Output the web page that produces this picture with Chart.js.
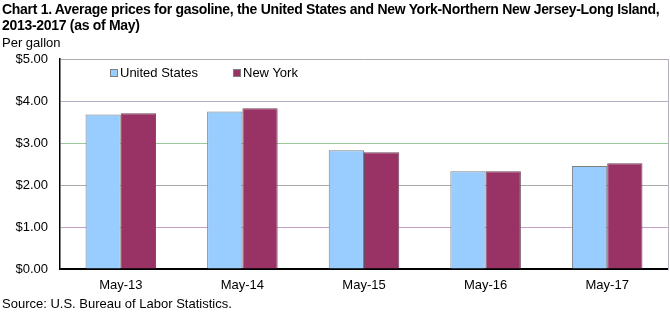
<!DOCTYPE html>
<html lang="en">
<head>
  <meta charset="UTF-8" />
  <title>Average prices for gasoline</title>
  <script src="https://cdn.jsdelivr.net/npm/chart.js"></script>
  <style>
    * { box-sizing: border-box; margin: 0; padding: 0; }
    body {
      width: 670px;
      height: 314px;
      background: #fff;
      font-family: 'Liberation Sans', Arial, sans-serif;
      color: #000;
      position: relative;
      overflow: hidden;
    }
    .title {
      position: absolute;
      left: 2px;
      top: 1px;
      font-size: 14px;
      letter-spacing: -0.3px;
      font-weight: bold;
      line-height: 16px;
      white-space: nowrap;
    }
    .unit {
      position: absolute;
      left: 2px;
      top: 35px;
      font-size: 13px;
    }
    .source {
      position: absolute;
      left: 2px;
      top: 296px;
      font-size: 13px;
    }
    .chart-box {
      position: absolute;
      left: 0;
      top: 0;
      width: 670px;
      height: 314px;
    }
    .legend {
      position: absolute;
      top: 65px;
      font-size: 13px;
      display: flex;
      align-items: center;
    }
    .legend span.box {
      display: inline-block;
      width: 8px;
      height: 8px;
      margin-right: 2px;
      border: 1px solid #808080;
    }
  </style>
</head>
<body>
  <div class="chart-box"><canvas id="chart"></canvas></div>
  <div class="title">Chart 1. Average prices for gasoline, the United States and New York-Northern New Jersey-Long Island,<br>2013-2017 (as of May)</div>
  <div class="unit">Per gallon</div>
  <div class="legend" style="left:110px;"><span class="box" style="background:#99ccff;"></span>United States</div>
  <div class="legend" style="left:233px;"><span class="box" style="background:#993366;"></span>New York</div>
  <div class="source">Source: U.S. Bureau of Labor Statistics.</div>

  <script>
// Chart data
const categories = ['May-13', 'May-14', 'May-15', 'May-16', 'May-17'];
const unitedStates = [3.68, 3.75, 2.83, 2.33, 2.45];
const newYork = [3.71, 3.83, 2.78, 2.33, 2.52];
const yTicks = [0, 1, 2, 3, 4, 5];

// gridline colours from $0 up to $5
const gridColors = ['#000000', '#c8a0c8', '#a8aca8', '#99c899', '#b4aec4', '#b0aab0'];

const ctx = document.getElementById('chart').getContext('2d');
new Chart(ctx, {
  type: 'bar',
  data: {
    labels: categories,
    datasets: [
      {
        label: 'United States',
        data: unitedStates,
        backgroundColor: '#99ccff',
        borderColor: '#808080',
        borderWidth: 1
      },
      {
        label: 'New York',
        data: newYork,
        backgroundColor: '#993366',
        borderColor: '#6e4a5a',
        borderWidth: 1
      }
    ]
  },
  options: {
    responsive: true,
    maintainAspectRatio: false,
    animation: false,
    layout: { padding: { top: 59, right: 0, left: 0, bottom: 0 } },
    plugins: {
      legend: { display: false },
      title: { display: false },
      tooltip: { enabled: false }
    },
    datasets: {
      bar: { barPercentage: 1, categoryPercentage: 0.58 }
    },
    scales: {
      x: {
        grid: { display: false, drawTicks: false },
        border: { color: '#000', width: 1.5 },
        ticks: {
          color: '#000',
          padding: 9,
          font: { family: "'Liberation Sans', Arial", size: 13 }
        },
        afterFit: (scale) => { scale.height = 45; }
      },
      y: {
        min: 0,
        max: 5,
        afterBuildTicks: (scale) => { scale.ticks = yTicks.map(v => ({ value: v })); },
        grid: {
          drawTicks: false,
          color: (c) => gridColors[c.index] || '#aaa',
          lineWidth: 1
        },
        border: { color: '#000', width: 1.5 },
        ticks: {
          color: '#000',
          padding: 12,
          font: { family: "'Liberation Sans', Arial", size: 13 },
          callback: (v) => '$' + Number(v).toFixed(2)
        },
        afterFit: (scale) => { scale.width = 60; }
      },
      yRight: {
        position: 'right',
        min: 0,
        max: 5,
        grid: { drawOnChartArea: false, drawTicks: false },
        border: { color: '#b8b0c0', width: 1 },
        ticks: { display: false },
        afterFit: (scale) => { scale.width = 2; }
      }
    }
  }
});
  </script>
</body>
</html>
